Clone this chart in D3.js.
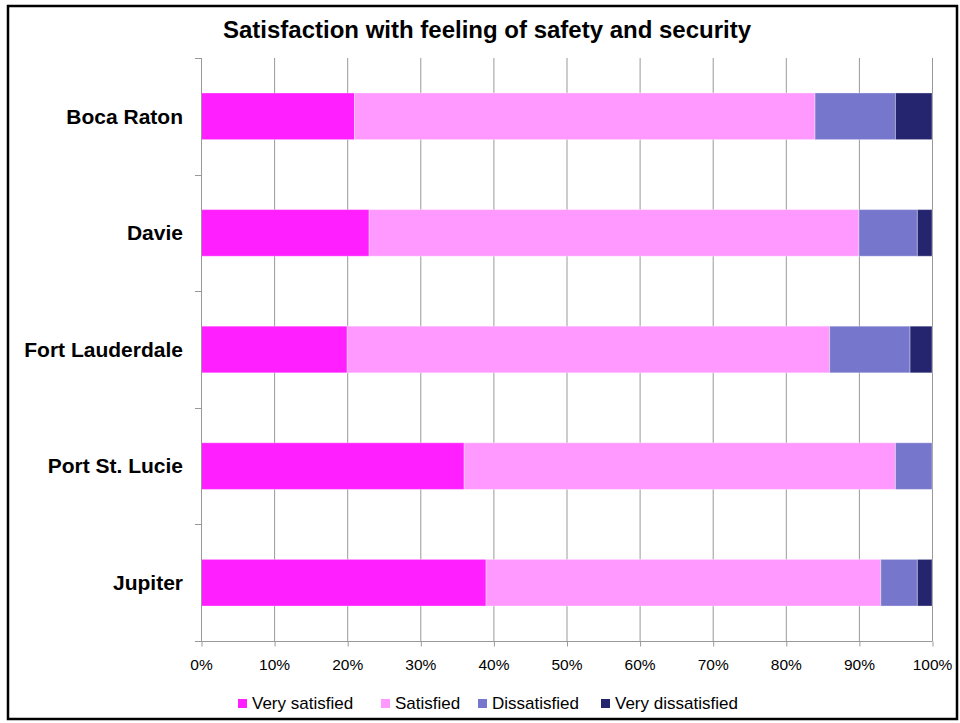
<!DOCTYPE html>
<html><head><meta charset="utf-8">
<script src="https://cdn.jsdelivr.net/npm/d3@7"></script>
<style>body{margin:0;background:#fff}svg{display:block}text{font-family:"Liberation Sans",Arial,sans-serif}</style>
</head><body><svg id="c" width="960" height="723"></svg>
<script>
const categories = ["Boca Raton","Davie","Fort Lauderdale","Port St. Lucie","Jupiter"];
const seriesNames = ["Very satisfied","Satisfied","Dissatisfied","Very dissatisfied"];
const verySatisfied = [21,23,20,36,39];
const satisfied = [63,67,66,59,54];
const dissatisfied = [11,8,11,5,5];
const veryDissatisfied = [5,2,3,0,2];
const tickValues = [0,10,20,30,40,50,60,70,80,90,100];
const colors = ["#ff1fff","#ff99ff","#7676cc","#24246f"];

const svg = d3.select("#c");
svg.append("rect").attr("x",8).attr("y",6).attr("width",949).attr("height",713)
  .attr("fill","#fff").attr("stroke","#000").attr("stroke-width",2.5);

const L=201,R=932,T=58,B=641;
const x = d3.scaleLinear().domain([0,100]).range([L,R]);
const y = d3.scaleBand().domain(categories).range([T,B]).paddingInner(0.6).paddingOuter(0.3);

// gridlines
svg.append("g").selectAll("line").data(tickValues.slice(1)).join("line")
  .attr("x1",d=>x(d)+0.5).attr("x2",d=>x(d)+0.5).attr("y1",T).attr("y2",B)
  .attr("stroke","#999").attr("stroke-width",1);

const rows = categories.map((c,i)=>({c, v:[verySatisfied[i],satisfied[i],dissatisfied[i],veryDissatisfied[i]]}));
const stackData = rows.map(r=>{const o={cat:r.c}; seriesNames.forEach((s,k)=>o[s]=r.v[k]); return o;});
const stack = d3.stack().keys(seriesNames)(stackData);
svg.append("g").selectAll("g").data(stack).join("g").attr("fill",(d,i)=>colors[i])
  .selectAll("rect").data(d=>d).join("rect")
  .attr("x",d=>x(d[0])).attr("width",d=>x(d[1])-x(d[0]))
  .attr("y",d=>y(d.data.cat)).attr("height",y.bandwidth())
  .attr("stroke","rgba(255,255,255,0.35)").attr("stroke-width",d=>d[1]>d[0]?1:0);

// x axis
const xAxis = svg.append("g").attr("transform",`translate(0,${B+0.5})`)
  .call(d3.axisBottom(x).tickValues(tickValues).tickFormat(d=>d+"%").tickSize(5));
xAxis.select(".domain").remove();
xAxis.append("line").attr("x1",L-6).attr("x2",R+0.5).attr("stroke","#999");
xAxis.selectAll(".tick line").attr("stroke","#999").attr("transform","translate(0.5,0)");
xAxis.selectAll(".tick text").attr("fill","#000").attr("y",28).attr("dy",null)
  .style("font-size","15.5px").style("font-family","'Liberation Sans',Arial,sans-serif");

// y axis
svg.append("line").attr("x1",L+0.5).attr("x2",L+0.5).attr("y1",T).attr("y2",B).attr("stroke","#999");
const bounds = d3.range(categories.length+1).map(i=>T+i*(B-T)/categories.length);
svg.append("g").selectAll("line").data(bounds).join("line")
  .attr("x1",L-6).attr("x2",L).attr("y1",d=>Math.round(d)+0.5).attr("y2",d=>Math.round(d)+0.5).attr("stroke","#999");
svg.append("g").selectAll("text").data(categories).join("text")
  .attr("x",183).attr("y",d=>y(d)+y.bandwidth()/2).attr("dy","0.35em")
  .attr("text-anchor","end").style("font-size","21px").style("font-weight","bold").text(d=>d);

// title
svg.append("text").attr("x",487).attr("y",38).attr("text-anchor","middle")
  .style("font-size","24px").style("font-weight","bold").text("Satisfaction with feeling of safety and security");

// legend
const legX = [238,381,478,601];
const lg = svg.append("g").selectAll("g").data(seriesNames).join("g")
  .attr("transform",(d,i)=>`translate(${legX[i]},699)`);
lg.append("rect").attr("width",9).attr("height",9).attr("fill",(d,i)=>colors[i]);
lg.append("text").attr("x",14).attr("y",4.5).attr("dy","0.35em").style("font-size","17px").text(d=>d);
</script></body></html>
